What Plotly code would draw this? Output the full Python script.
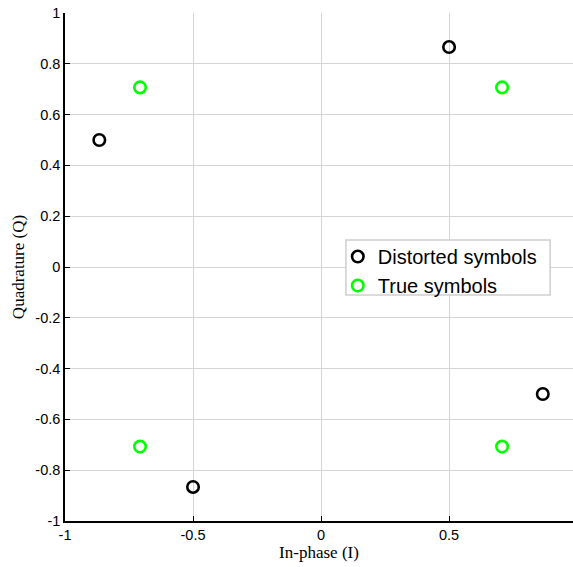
import plotly.graph_objects as go

distorted_i = [-0.866, 0.5, 0.866, -0.5]
distorted_q = [0.5, 0.866, -0.5, -0.866]
true_i = [-0.707, 0.707, 0.707, -0.707]
true_q = [0.707, 0.707, -0.707, -0.707]

x_ticks = [-1, -0.5, 0, 0.5, 1]
x_labels = ["-1", "-0.5", "0", "0.5", "1"]
y_ticks = [1, 0.8, 0.6, 0.4, 0.2, 0, -0.2, -0.4, -0.6, -0.8, -1]
y_labels = ["1", "0.8", "0.6", "0.4", "0.2", "0", "-0.2", "-0.4", "-0.6", "-0.8", "-1"]

fig = go.Figure()
fig.add_trace(go.Scatter(x=distorted_i, y=distorted_q, mode="markers", name="Distorted symbols",
                         marker=dict(symbol="circle-open", size=11.5, color="black", line=dict(width=2.6, color="black"))))
fig.add_trace(go.Scatter(x=true_i, y=true_q, mode="markers", name="True symbols",
                         marker=dict(symbol="circle-open", size=11.5, color="#00ff00", line=dict(width=2.6, color="#00ff00"))))

serif = "Liberation Serif, Times New Roman, serif"
sans = "Liberation Sans, Arial, Helvetica, sans-serif"

fig.update_layout(
    width=573, height=567,
    margin=dict(l=65, r=0, t=13, b=46),
    paper_bgcolor="white", plot_bgcolor="white",
    font=dict(family=sans, size=14.5, color="black"),
    showlegend=True,
    legend=dict(x=0.537, y=0.559, xanchor="left", yanchor="top",
                bgcolor="rgba(0,0,0,0)", borderwidth=0,
                font=dict(size=20, family=sans),
                tracegroupgap=0),
    shapes=[dict(type="rect", xref="paper", yref="paper",
                 x0=0.553, x1=0.955, y0=0.445, y1=0.553,
                 line=dict(color="#cfcfcf", width=1.5), fillcolor="white", layer="above")],
    xaxis=dict(range=[-1, 0.984], tickvals=x_ticks, ticktext=x_labels,
               showgrid=True, gridcolor="#d4d4d4", gridwidth=1, zeroline=False,
               showline=True, linecolor="black", linewidth=1.5,
               ticks="inside", ticklen=5, tickcolor="black",
               tickfont=dict(size=14.5),
               title=dict(text="In-phase (I)", font=dict(family=serif, size=17), standoff=4)),
    yaxis=dict(range=[-1, 1], tickvals=y_ticks, ticktext=y_labels,
               showgrid=True, gridcolor="#d4d4d4", gridwidth=1, zeroline=False,
               showline=True, linecolor="black", linewidth=1.5,
               ticks="inside", ticklen=5, tickcolor="black",
               tickfont=dict(size=14.5),
               title=dict(text="Quadrature (Q)", font=dict(family=serif, size=17), standoff=6)),
)

fig.write_html("out.html")
